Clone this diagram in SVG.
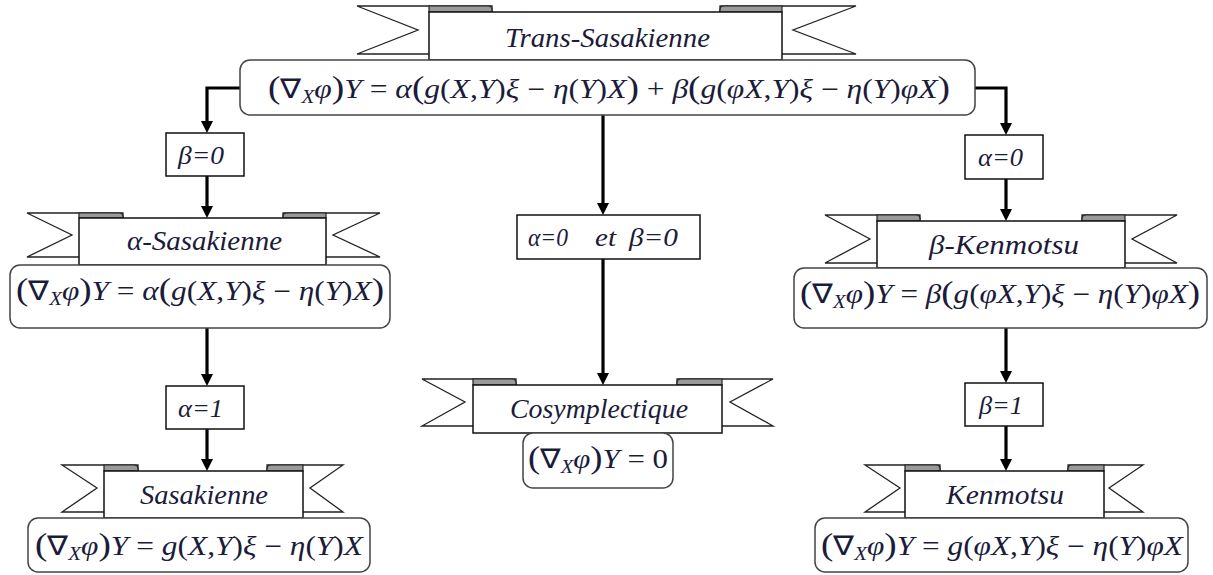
<svg xmlns="http://www.w3.org/2000/svg" width="1213" height="575" viewBox="0 0 1213 575">
<defs>
<marker id="ah" viewBox="0 0 12 12" refX="8" refY="6" markerWidth="12" markerHeight="12" markerUnits="userSpaceOnUse" orient="auto"><path d="M0,0 L12,6 L0,12 z" fill="#000"/></marker>
</defs>
<style>
.tail{fill:#fff;stroke:#222;stroke-width:1.3}
.fold{fill:#9a9a9a;stroke:#222;stroke-width:1.2}
.rib{fill:#fff;stroke:#111;stroke-width:1.5}
.fbox{fill:#fff;stroke:#444;stroke-width:1.5}
.lbox{fill:#fff;stroke:#111;stroke-width:1.5}
.conn{fill:none;stroke:#000;stroke-width:3.2}
.title{font-family:"Liberation Serif",serif;font-style:italic;font-size:28px;fill:#1b1b3a}
.f{font-family:"Liberation Serif",serif;font-style:italic;font-size:27px;fill:#1b1b3a}
.u{font-style:normal}
.b{font-style:normal;font-size:32px}
.s{font-size:18px}
.lab{font-family:"Liberation Serif",serif;font-style:italic;font-size:26px;fill:#1b1b3a}
</style>

<g id="connectors">
<path class="conn" d="M240,88 H207 V129" marker-end="url(#ah)"/>
<path class="conn" d="M207,176 V214" marker-end="url(#ah)"/>
<path class="conn" d="M207,328 V382" marker-end="url(#ah)"/>
<path class="conn" d="M207,429 V467" marker-end="url(#ah)"/>
<path class="conn" d="M603,115 V211" marker-end="url(#ah)"/>
<path class="conn" d="M603,259 V381" marker-end="url(#ah)"/>
<path class="conn" d="M975,88 H1006 V131" marker-end="url(#ah)"/>
<path class="conn" d="M1006,179 V217" marker-end="url(#ah)"/>
<path class="conn" d="M1006,328 V379" marker-end="url(#ah)"/>
<path class="conn" d="M1006,426 V467" marker-end="url(#ah)"/>
</g>

<g id="trans-sasakienne">
<polygon class="tail" points="357,6 492,6 492,54 357,54 418,30"/>
<polygon class="tail" points="856,6 720,6 720,54 856,54 793,30"/>
<path class="fold" d="M429,12 V6 H488 Q492,6 492,10 V12 Z"/>
<path class="fold" d="M782,12 V6 H724 Q720,6 720,10 V12 Z"/>
<rect class="rib" x="429" y="12" width="353" height="48"/>
<text class="title" x="505" y="47" textLength="205" lengthAdjust="spacingAndGlyphs">Trans-Sasakienne</text>
<rect class="fbox" x="240" y="60" width="735" height="55" rx="10"/>
<text class="f" x="268" y="98" textLength="682" lengthAdjust="spacingAndGlyphs"><tspan class="b">(</tspan><tspan class="u">∇</tspan><tspan class="s" dy="5">X</tspan><tspan dy="-5">φ</tspan><tspan class="b">)</tspan>Y<tspan class="u"> = </tspan>α<tspan class="b">(</tspan>g<tspan class="u">(</tspan>X<tspan class="u">,</tspan>Y<tspan class="u">)</tspan>ξ<tspan class="u"> − </tspan>η<tspan class="u">(</tspan>Y<tspan class="u">)</tspan>X<tspan class="b">)</tspan><tspan class="u"> + </tspan>β<tspan class="b">(</tspan>g<tspan class="u">(</tspan>φX<tspan class="u">,</tspan>Y<tspan class="u">)</tspan>ξ<tspan class="u"> − </tspan>η<tspan class="u">(</tspan>Y<tspan class="u">)</tspan>φX<tspan class="b">)</tspan></text>
</g>

<g id="label-beta0">
<rect class="lbox" x="166" y="133" width="78" height="43"/>
<text class="lab" x="178" y="164" textLength="46" lengthAdjust="spacingAndGlyphs">β=0</text>
</g>

<g id="alpha-sasakienne">
<polygon class="tail" points="27,213 123,213 123,257 27,257 72,235"/>
<polygon class="tail" points="380,213 283,213 283,257 380,257 333,235"/>
<path class="fold" d="M79,218 V213 H119 Q123,213 123,217 V218 Z"/>
<path class="fold" d="M326,218 V213 H287 Q283,213 283,217 V218 Z"/>
<rect class="rib" x="79" y="218" width="247" height="47"/>
<text class="title" x="127" y="250" textLength="155" lengthAdjust="spacingAndGlyphs">α-Sasakienne</text>
<rect class="fbox" x="10" y="265" width="380" height="63" rx="10"/>
<text class="f" x="16" y="300" textLength="368" lengthAdjust="spacingAndGlyphs"><tspan class="b">(</tspan><tspan class="u">∇</tspan><tspan class="s" dy="5">X</tspan><tspan dy="-5">φ</tspan><tspan class="b">)</tspan>Y<tspan class="u"> = </tspan>α<tspan class="b">(</tspan>g<tspan class="u">(</tspan>X<tspan class="u">,</tspan>Y<tspan class="u">)</tspan>ξ<tspan class="u"> − </tspan>η<tspan class="u">(</tspan>Y<tspan class="u">)</tspan>X<tspan class="b">)</tspan></text>
</g>

<g id="label-alpha1">
<rect class="lbox" x="166" y="386" width="78" height="43"/>
<text class="lab" x="178" y="417" textLength="45" lengthAdjust="spacingAndGlyphs">α=1</text>
</g>

<g id="sasakienne">
<polygon class="tail" points="62,465 138,465 138,512 62,512 97,488"/>
<polygon class="tail" points="343,465 267,465 267,512 343,512 310,488"/>
<path class="fold" d="M104,471 V465 H134 Q138,465 138,469 V471 Z"/>
<path class="fold" d="M303,471 V465 H271 Q267,465 267,469 V471 Z"/>
<rect class="rib" x="104" y="471" width="199" height="47"/>
<text class="title" x="140" y="504" textLength="128" lengthAdjust="spacingAndGlyphs">Sasakienne</text>
<rect class="fbox" x="28" y="518" width="342" height="54" rx="10"/>
<text class="f" x="35" y="555" textLength="328" lengthAdjust="spacingAndGlyphs"><tspan class="b">(</tspan><tspan class="u">∇</tspan><tspan class="s" dy="5">X</tspan><tspan dy="-5">φ</tspan><tspan class="b">)</tspan>Y<tspan class="u"> = </tspan>g<tspan class="u">(</tspan>X<tspan class="u">,</tspan>Y<tspan class="u">)</tspan>ξ<tspan class="u"> − </tspan>η<tspan class="u">(</tspan>Y<tspan class="u">)</tspan>X</text>
</g>

<g id="label-alpha0-beta0">
<rect class="lbox" x="517" y="215" width="183" height="44"/>
<text class="lab" x="528" y="246" textLength="40" lengthAdjust="spacingAndGlyphs">α=0</text>
<text class="lab" x="595" y="246" textLength="21" lengthAdjust="spacingAndGlyphs">et</text>
<text class="lab" x="629" y="246" textLength="49" lengthAdjust="spacingAndGlyphs">β=0</text>
</g>

<g id="cosymplectique">
<polygon class="tail" points="422,379 516,379 516,426 422,426 465,402"/>
<polygon class="tail" points="773,379 677,379 677,426 773,426 730,402"/>
<path class="fold" d="M473,385 V379 H512 Q516,379 516,383 V385 Z"/>
<path class="fold" d="M722,385 V379 H681 Q677,379 677,383 V385 Z"/>
<rect class="rib" x="473" y="385" width="249" height="48"/>
<text class="title" x="510" y="418" textLength="178" lengthAdjust="spacingAndGlyphs">Cosymplectique</text>
<rect class="fbox" x="523" y="433" width="150" height="55" rx="10"/>
<text class="f" x="528" y="468" textLength="140" lengthAdjust="spacingAndGlyphs"><tspan class="b">(</tspan><tspan class="u">∇</tspan><tspan class="s" dy="5">X</tspan><tspan dy="-5">φ</tspan><tspan class="b">)</tspan>Y<tspan class="u"> = 0</tspan></text>
</g>

<g id="label-alpha0">
<rect class="lbox" x="965" y="135" width="78" height="44"/>
<text class="lab" x="978" y="166" textLength="45" lengthAdjust="spacingAndGlyphs">α=0</text>
</g>

<g id="beta-kenmotsu">
<polygon class="tail" points="825,215 920,215 920,263 825,263 870,239"/>
<polygon class="tail" points="1177,215 1082,215 1082,263 1177,263 1132,239"/>
<path class="fold" d="M877,221 V215 H916 Q920,215 920,219 V221 Z"/>
<path class="fold" d="M1125,221 V215 H1086 Q1082,215 1082,219 V221 Z"/>
<rect class="rib" x="877" y="221" width="248" height="47"/>
<text class="title" x="929" y="254" textLength="150" lengthAdjust="spacingAndGlyphs">β-Kenmotsu</text>
<rect class="fbox" x="794" y="268" width="413" height="60" rx="10"/>
<text class="f" x="800" y="303" textLength="400" lengthAdjust="spacingAndGlyphs"><tspan class="b">(</tspan><tspan class="u">∇</tspan><tspan class="s" dy="5">X</tspan><tspan dy="-5">φ</tspan><tspan class="b">)</tspan>Y<tspan class="u"> = </tspan>β<tspan class="b">(</tspan>g<tspan class="u">(</tspan>φX<tspan class="u">,</tspan>Y<tspan class="u">)</tspan>ξ<tspan class="u"> − </tspan>η<tspan class="u">(</tspan>Y<tspan class="u">)</tspan>φX<tspan class="b">)</tspan></text>
</g>

<g id="label-beta1">
<rect class="lbox" x="965" y="383" width="78" height="43"/>
<text class="lab" x="979" y="414" textLength="44" lengthAdjust="spacingAndGlyphs">β=1</text>
</g>

<g id="kenmotsu">
<polygon class="tail" points="865,465 940,465 940,512 865,512 900,488"/>
<polygon class="tail" points="1143,465 1068,465 1068,512 1143,512 1109,488"/>
<path class="fold" d="M905,471 V465 H936 Q940,465 940,469 V471 Z"/>
<path class="fold" d="M1104,471 V465 H1072 Q1068,465 1068,469 V471 Z"/>
<rect class="rib" x="905" y="471" width="199" height="47"/>
<text class="title" x="946" y="504" textLength="118" lengthAdjust="spacingAndGlyphs">Kenmotsu</text>
<rect class="fbox" x="815" y="518" width="373" height="54" rx="10"/>
<text class="f" x="821" y="555" textLength="362" lengthAdjust="spacingAndGlyphs"><tspan class="b">(</tspan><tspan class="u">∇</tspan><tspan class="s" dy="5">X</tspan><tspan dy="-5">φ</tspan><tspan class="b">)</tspan>Y<tspan class="u"> = </tspan>g<tspan class="u">(</tspan>φX<tspan class="u">,</tspan>Y<tspan class="u">)</tspan>ξ<tspan class="u"> − </tspan>η<tspan class="u">(</tspan>Y<tspan class="u">)</tspan>φX</text>
</g>
</svg>
